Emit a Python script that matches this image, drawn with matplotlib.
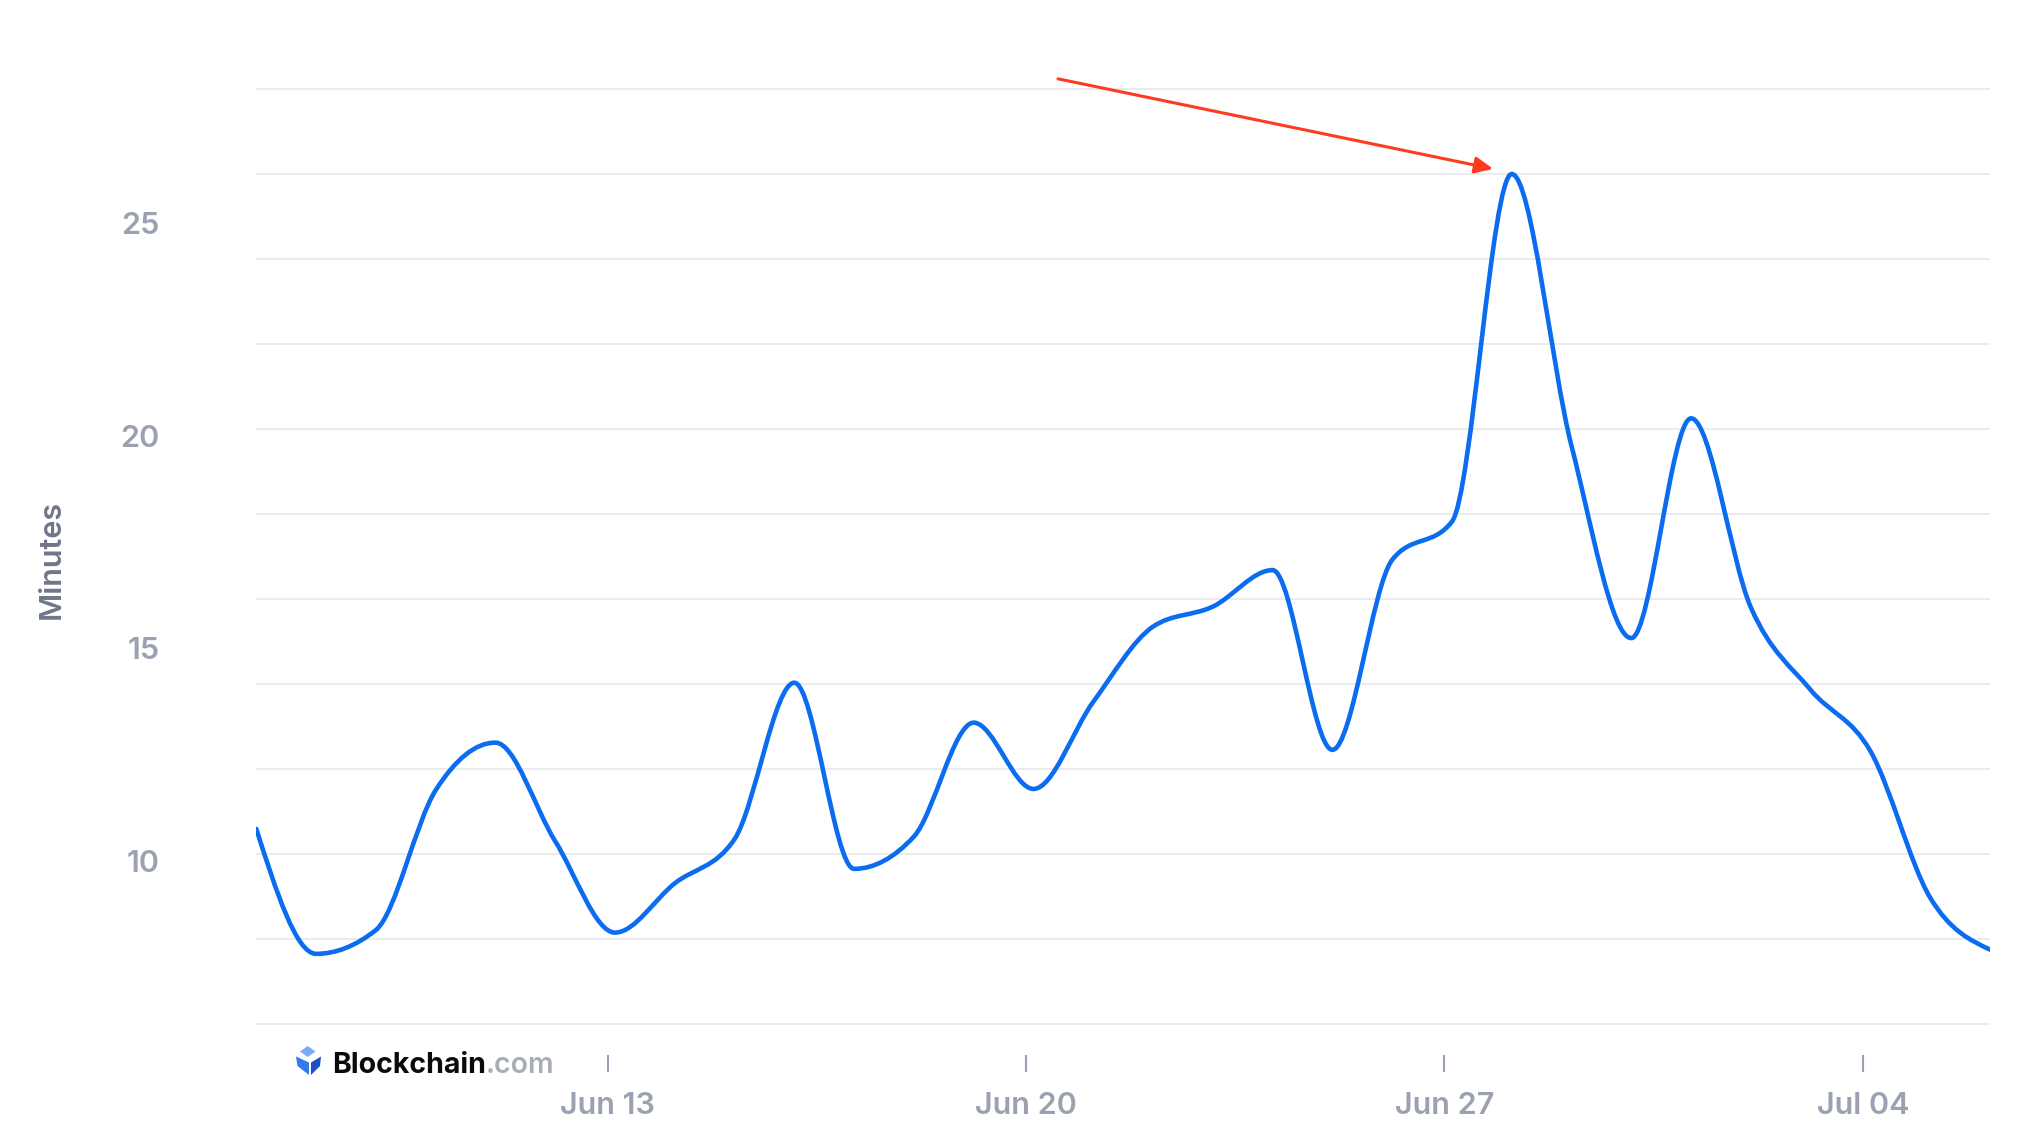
import numpy as np
import pandas as pd
import matplotlib
matplotlib.use('Agg')
import matplotlib.pyplot as plt
import matplotlib.dates as mdates
from matplotlib.path import Path
from matplotlib.patches import PathPatch, Polygon

# Average block time, one value per day
dates = pd.date_range('2021-06-07 03:00', periods=30, freq='D')
minutes = [10.59, 7.65, 8.21, 11.5, 12.62, 10.3, 8.15, 9.31, 10.35, 14.03,
           9.65, 10.41, 13.09, 11.53, 13.58, 15.35, 15.82, 16.68, 12.45, 16.92,
           17.82, 26.0, 19.6, 15.08, 20.25, 15.8, 13.86, 12.42, 8.97, 7.75]
tick_dates = ['2021-06-13', '2021-06-20', '2021-06-27', '2021-07-04']
y_labels = [10, 15, 20, 25]
y_grid = list(range(6, 29, 2))

W, H = 2040, 1134
LINE = '#0b6cf0'
GRID = '#e4e6eb'
TICK = '#9aa1b0'
plt.rcParams['font.family'] = ['Inter', 'DejaVu Sans']


def monotone_path(x, y):
    """Smooth line through the points, same shape as d3.curveMonotoneX."""
    x = np.asarray(x, float)
    y = np.asarray(y, float)
    h = np.diff(x)
    s = np.diff(y) / h
    t = np.zeros_like(y)
    for i in range(1, len(x) - 1):
        p = (s[i - 1] * h[i] + s[i] * h[i - 1]) / (h[i - 1] + h[i])
        t[i] = (np.sign(s[i - 1]) + np.sign(s[i])) * min(abs(s[i - 1]), abs(s[i]), 0.5 * abs(p))
    t[0] = (3 * s[0] - t[1]) / 2
    t[-1] = (3 * s[-1] - t[-2]) / 2
    verts = [(x[0], y[0])]
    codes = [Path.MOVETO]
    for i in range(len(x) - 1):
        dx = h[i] / 3
        verts += [(x[i] + dx, y[i] + dx * t[i]),
                  (x[i + 1] - dx, y[i + 1] - dx * t[i + 1]),
                  (x[i + 1], y[i + 1])]
        codes += [Path.CURVE4] * 3
    return Path(verts, codes)


fig = plt.figure(figsize=(W / 100, H / 100), dpi=100)
ax = fig.add_axes([256.3 / W, 1 - 1055 / H, (1990 - 256.3) / W, (1055 - 46.5) / H])

xnum = mdates.date2num(dates.to_pydatetime())
ax.add_patch(PathPatch(monotone_path(xnum, minutes), facecolor='none',
                       edgecolor=LINE, lw=3.3, capstyle='round', joinstyle='round', zorder=3))

ax.xaxis_date()
ax.set_xlim(xnum[0], xnum[-1])
ax.set_ylim(5.27, 29)

# grid
ax.set_yticks(y_grid)
ax.yaxis.grid(True, color=GRID, lw=1.1)
ax.tick_params(axis='y', length=0, labelleft=False)
for sp in ax.spines.values():
    sp.set_visible(False)

for v in y_labels:
    ax.annotate(str(v), xy=(0, v), xycoords=('axes fraction', 'data'),
                xytext=(-97, -10), textcoords='offset pixels', ha='right', va='center',
                fontsize=22, fontweight='semibold', color=TICK)

ax.set_xticks(mdates.date2num(pd.to_datetime(tick_dates).to_pydatetime()))
ax.xaxis.set_major_formatter(mdates.DateFormatter('%b %d'))
ax.tick_params(axis='x', direction='out', length=12, width=1.5, color=TICK,
               labelcolor=TICK, labelsize=22, pad=15)
for lbl in ax.get_xticklabels():
    lbl.set_fontweight('semibold')

fig.text(52 / W, 1 - 559 / H, 'Minutes', rotation=90, ha='center', va='center',
         fontsize=22, fontweight='semibold', color='#6e7688')

# red arrow pointing at the peak
ax.annotate('', xy=(xnum[0] + 20.69, 26.12), xytext=(xnum[0] + 13.41, 28.24),
            arrowprops=dict(arrowstyle='-|>,head_length=0.55,head_width=0.25',
                            color='#ff3b1f', lw=2.2, mutation_scale=20,
                            shrinkA=0, shrinkB=0),
            annotation_clip=False)

# Blockchain.com watermark
def px(x, y):
    return (x / W, 1 - y / H)

logo = [
    ([(307.7, 1046), (315.5, 1051.5), (307.7, 1057), (300, 1051.5)], '#7aacf6'),
    ([(296, 1056.5), (309, 1062.5), (309, 1075), (297.5, 1066)], '#2f7cf0'),
    ([(311, 1062.5), (321, 1056.5), (320, 1066), (311, 1075)], '#1c4fc0'),
]
for pts, col in logo:
    fig.patches.append(Polygon([px(*p) for p in pts], closed=True, transform=fig.transFigure,
                               facecolor=col, edgecolor='none'))

t1 = fig.text(*px(332, 1072.7), 'Blockchain', ha='left', va='baseline',
              fontsize=20.5, fontweight='bold', color='#0b0b0b')
ax.annotate('.com', xy=(1, 0), xycoords=t1, ha='left', va='bottom',
            fontsize=20.5, fontweight='semibold', color='#a7adb9', annotation_clip=False)

fig.savefig('out.png', dpi=100)
